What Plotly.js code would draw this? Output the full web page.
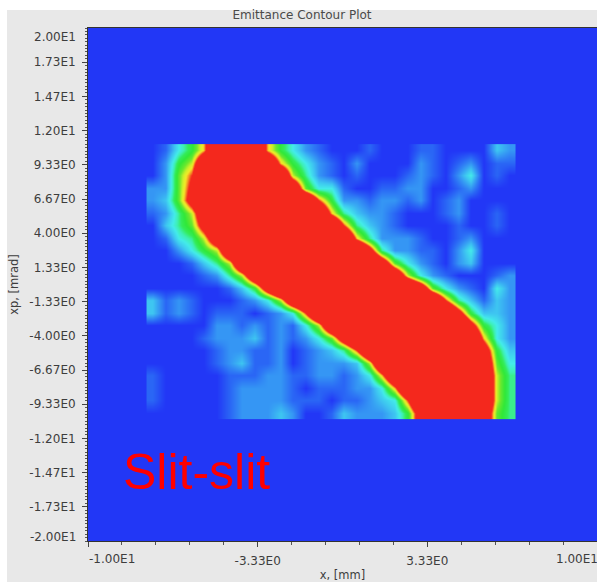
<!DOCTYPE html>
<html>
<head>
<meta charset="utf-8">
<script src="https://cdn.plot.ly/plotly-3.0.1.min.js"></script>
<style>
  html, body { margin: 0; padding: 0; background: #ffffff; }
  #chart { width: 597px; height: 582px; }
</style>
</head>
<body>
<div id="chart"></div>
<script>
// Scan grid: slit position x [mm] (cell centres) and angle xp [mrad] (top to bottom)
const xPos = [-7.45, -6.95, -6.45, -5.95, -5.45, -4.95, -4.45, -3.95, -3.45, -2.95,
              -2.45, -1.95, -1.45, -0.95, -0.45, 0.05, 0.55, 1.05, 1.55, 2.05,
              2.55, 3.05, 3.55, 4.05, 4.55, 5.05, 5.55, 6.05, 6.55];
const xpPos = [10.46, 9.49, 8.51, 7.54, 6.56, 5.59, 4.61, 3.64, 2.66, 1.69, 0.71,
               -0.26, -1.24, -2.21, -3.19, -4.16, -5.14, -6.11, -7.09, -8.06, -9.04, -10.01];

// Measured intensity per xp row (arbitrary units, saturates at 10)
const row00 = [0,1,4,6,9,16,18,18,16,9,6,4,2,1,0,0,0,1,0,0,0,1,1,0,0,0,0,3,2];
const row01 = [0,2,6,8,15,18,18,18,18,16,9,6,4,2,1,0,2,0,0,0,0,2,1,0,1,2,0,1,1];
const row02 = [0,2,7,10,17,18,18,18,18,18,16,8,5,2,1,0,1,0,0,0,1,2,1,0,2,4,0,1,0];
const row03 = [2,2,7,11,18,18,18,18,18,18,18,15,7,4,4,1,0,0,1,1,2,2,0,0,1,2,0,0,0];
const row04 = [2,3,7,12,18,18,18,18,18,18,18,18,17,10,6,2,2,1,2,2,1,2,0,1,2,0,0,0,0];
const row05 = [1,2,5,8,14,18,18,18,18,18,18,18,18,16,9,5,3,2,2,1,0,0,0,1,2,0,0,1,0];
const row06 = [0,3,5,7,12,18,18,18,18,18,18,18,18,18,17,10,5,3,2,1,0,0,0,0,1,0,0,1,0];
const row07 = [0,1,4,5,8,14,18,18,18,18,18,18,18,18,18,17,9,5,2,2,2,1,0,0,1,2,0,0,0];
const row08 = [0,0,2,4,6,8,16,18,18,18,18,18,18,18,18,18,18,12,5,2,2,1,1,0,2,4,0,0,0];
const row09 = [0,0,0,1,3,5,8,16,18,18,18,18,18,18,18,18,18,18,14,7,4,2,1,0,2,3,0,0,0];
const row10 = [0,0,0,0,1,2,5,8,15,18,18,18,18,18,18,18,18,18,18,15,8,4,2,1,0,0,0,1,2];
const row11 = [0,0,0,0,0,0,1,3,6,13,18,18,18,18,18,18,18,18,18,18,18,14,7,4,2,1,0,4,2];
const row12 = [3,1,2,1,0,0,0,1,2,4,8,15,18,18,18,18,18,18,18,18,18,18,17,10,5,3,1,3,2];
const row13 = [3,1,2,1,0,1,1,1,0,1,2,4,10,17,18,18,18,18,18,18,18,18,18,18,12,6,3,3,2];
const row14 = [0,0,0,0,0,2,2,1,2,1,2,1,4,8,16,18,18,18,18,18,18,18,18,18,18,12,6,4,2];
const row15 = [0,0,0,0,1,2,2,2,3,1,2,1,2,4,7,13,18,18,18,18,18,18,18,18,18,17,9,4,2];
const row16 = [0,0,0,0,0,1,2,2,1,1,2,0,1,2,3,5,10,17,18,18,18,18,18,18,18,18,13,6,3];
const row17 = [0,0,0,0,0,1,2,3,1,1,2,0,1,2,2,2,3,8,16,18,18,18,18,18,18,18,15,7,4];
const row18 = [1,0,0,0,0,0,1,1,1,2,2,1,1,2,2,1,2,4,9,16,18,18,18,18,18,18,16,8,5];
const row19 = [1,0,0,0,0,0,1,2,2,2,2,1,0,1,1,1,2,2,4,9,17,18,18,18,18,18,16,8,5];
const row20 = [1,0,0,0,0,0,1,2,2,2,2,1,1,1,0,1,1,2,3,4,10,17,18,18,18,18,16,8,5];
const row21 = [0,0,0,0,0,0,1,2,2,2,3,2,0,0,1,3,2,2,2,3,6,13,18,18,18,18,14,7,5];

// Axis ticks
const yTickVals = [17.333, 14.667, 12, 9.333, 6.667, 4, 1.333, -1.333, -4, -6.667, -9.333, -12, -14.667, -17.333];
const yTickText = ['1.73E1', '1.47E1', '1.20E1', '9.33E0', '6.67E0', '4.00E0', '1.33E0',
                   '-1.33E0', '-4.00E0', '-6.67E0', '-9.33E0', '-1.20E1', '-1.47E1', '-1.73E1'];
const xTickVals = [-10, -3.333, 3.333, 10];
const xTickText = ['', '-3.33E0', '3.33E0', ''];

const intensity = [row00, row01, row02, row03, row04, row05, row06, row07, row08, row09, row10,
                   row11, row12, row13, row14, row15, row16, row17, row18, row19, row20, row21];

// Figure geometry
const W = 597, H = 582;
const M = { l: 88, r: 0, t: 28, b: 41 };
const pw = W - M.l - M.r, ph = H - M.t - M.b;
const paperX = px => (px - M.l) / pw;
const paperY = py => (H - M.b - py) / ph;

const BLUE = '#2237f6';
const rainbow = [
  [0.0, BLUE],
  [0.1, '#2a66f5'],
  [0.2, '#3596f4'],
  [0.3, '#3ec6f1'],
  [0.4, '#44ecea'],
  [0.47, '#3ef0b4'],
  [0.54, '#34ec5a'],
  [0.62, '#30e838'],
  [0.72, '#6ce82e'],
  [0.8, '#ccf02a'],
  [0.87, '#f4ea28'],
  [0.94, '#f58a24'],
  [1.0, '#f4281d']
];

const tickFont = { family: 'DejaVu Sans, sans-serif', size: 12, color: '#3d3d3d' };

const trace = {
  type: 'heatmap',
  x: xPos,
  y: xpPos,
  z: intensity,
  zmin: 0,
  zmax: 10,
  zsmooth: 'best',
  colorscale: rainbow,
  showscale: false,
  hoverinfo: 'skip'
};

const edgeLabel = (text, px, py, xanchor) => ({
  text: text, xref: 'paper', yref: 'paper',
  x: paperX(px), y: paperY(py), xanchor: xanchor, yanchor: 'middle',
  showarrow: false, font: tickFont
});

const layout = {
  width: W,
  height: H,
  margin: M,
  paper_bgcolor: '#e8e8e8',
  plot_bgcolor: BLUE,
  showlegend: false,
  title: {
    text: 'Emittance Contour Plot',
    x: 302 / W, xanchor: 'center',
    y: 1 - 15 / H, yanchor: 'middle',
    font: { family: 'DejaVu Sans, sans-serif', size: 12, color: '#4a4a4a' }
  },
  xaxis: {
    range: [-10, 10],
    tickmode: 'array', tickvals: xTickVals, ticktext: xTickText,
    ticks: 'outside', ticklen: 5, tickwidth: 1, tickcolor: '#444',
    ticklabelstandoff: 4,
    minor: { tickmode: 'linear', tick0: -10, dtick: 1.33333, ticks: 'outside', ticklen: 3, tickcolor: '#555' },
    showgrid: false, zeroline: false,
    showline: true, linecolor: '#333', linewidth: 1, mirror: true,
    tickfont: tickFont,
    title: { text: 'x, [mm]', standoff: 4, font: { family: 'DejaVu Sans, sans-serif', size: 11.5, color: '#3d3d3d' } }
  },
  yaxis: {
    range: [-20, 20],
    tickmode: 'array', tickvals: yTickVals, ticktext: yTickText,
    ticks: 'outside', ticklen: 5, tickwidth: 1, tickcolor: '#444',
    ticklabelstandoff: 4,
    minor: { tickmode: 'linear', tick0: -20, dtick: 0.266667, ticks: 'outside', ticklen: 2, tickcolor: '#555' },
    showgrid: false, zeroline: false,
    showline: true, linecolor: '#333', linewidth: 1, mirror: true,
    tickfont: tickFont,
    title: { text: 'xp, [mrad]', standoff: 8, font: { family: 'DejaVu Sans, sans-serif', size: 11.5, color: '#3d3d3d' } }
  },
  shapes: [
    // white strips outside the grey panel
    { type: 'rect', xref: 'paper', yref: 'paper', layer: 'below',
      x0: paperX(0), x1: paperX(W + 2), y0: paperY(10), y1: paperY(-2),
      fillcolor: '#ffffff', line: { width: 0 } },
    { type: 'rect', xref: 'paper', yref: 'paper', layer: 'below',
      x0: paperX(-2), x1: paperX(7), y0: paperY(H + 2), y1: paperY(-2),
      fillcolor: '#ffffff', line: { width: 0 } }
  ],
  annotations: [
    edgeLabel('2.00E1', 78, 37, 'right'),
    edgeLabel('-2.00E1', 78, 537, 'right'),
    edgeLabel('-1.00E1', 87, 559, 'left'),
    edgeLabel('1.00E1', 600, 559, 'right'),
    {
      text: 'Slit-slit', xref: 'x', yref: 'y',
      x: -8.7, y: -14.6, xanchor: 'left', yanchor: 'middle',
      showarrow: false,
      font: { family: 'Liberation Sans, Arial, sans-serif', size: 50, color: '#ff0000' }
    }
  ]
};

Plotly.newPlot('chart', [trace], layout, { staticPlot: true, displayModeBar: false });
</script>
</body>
</html>
